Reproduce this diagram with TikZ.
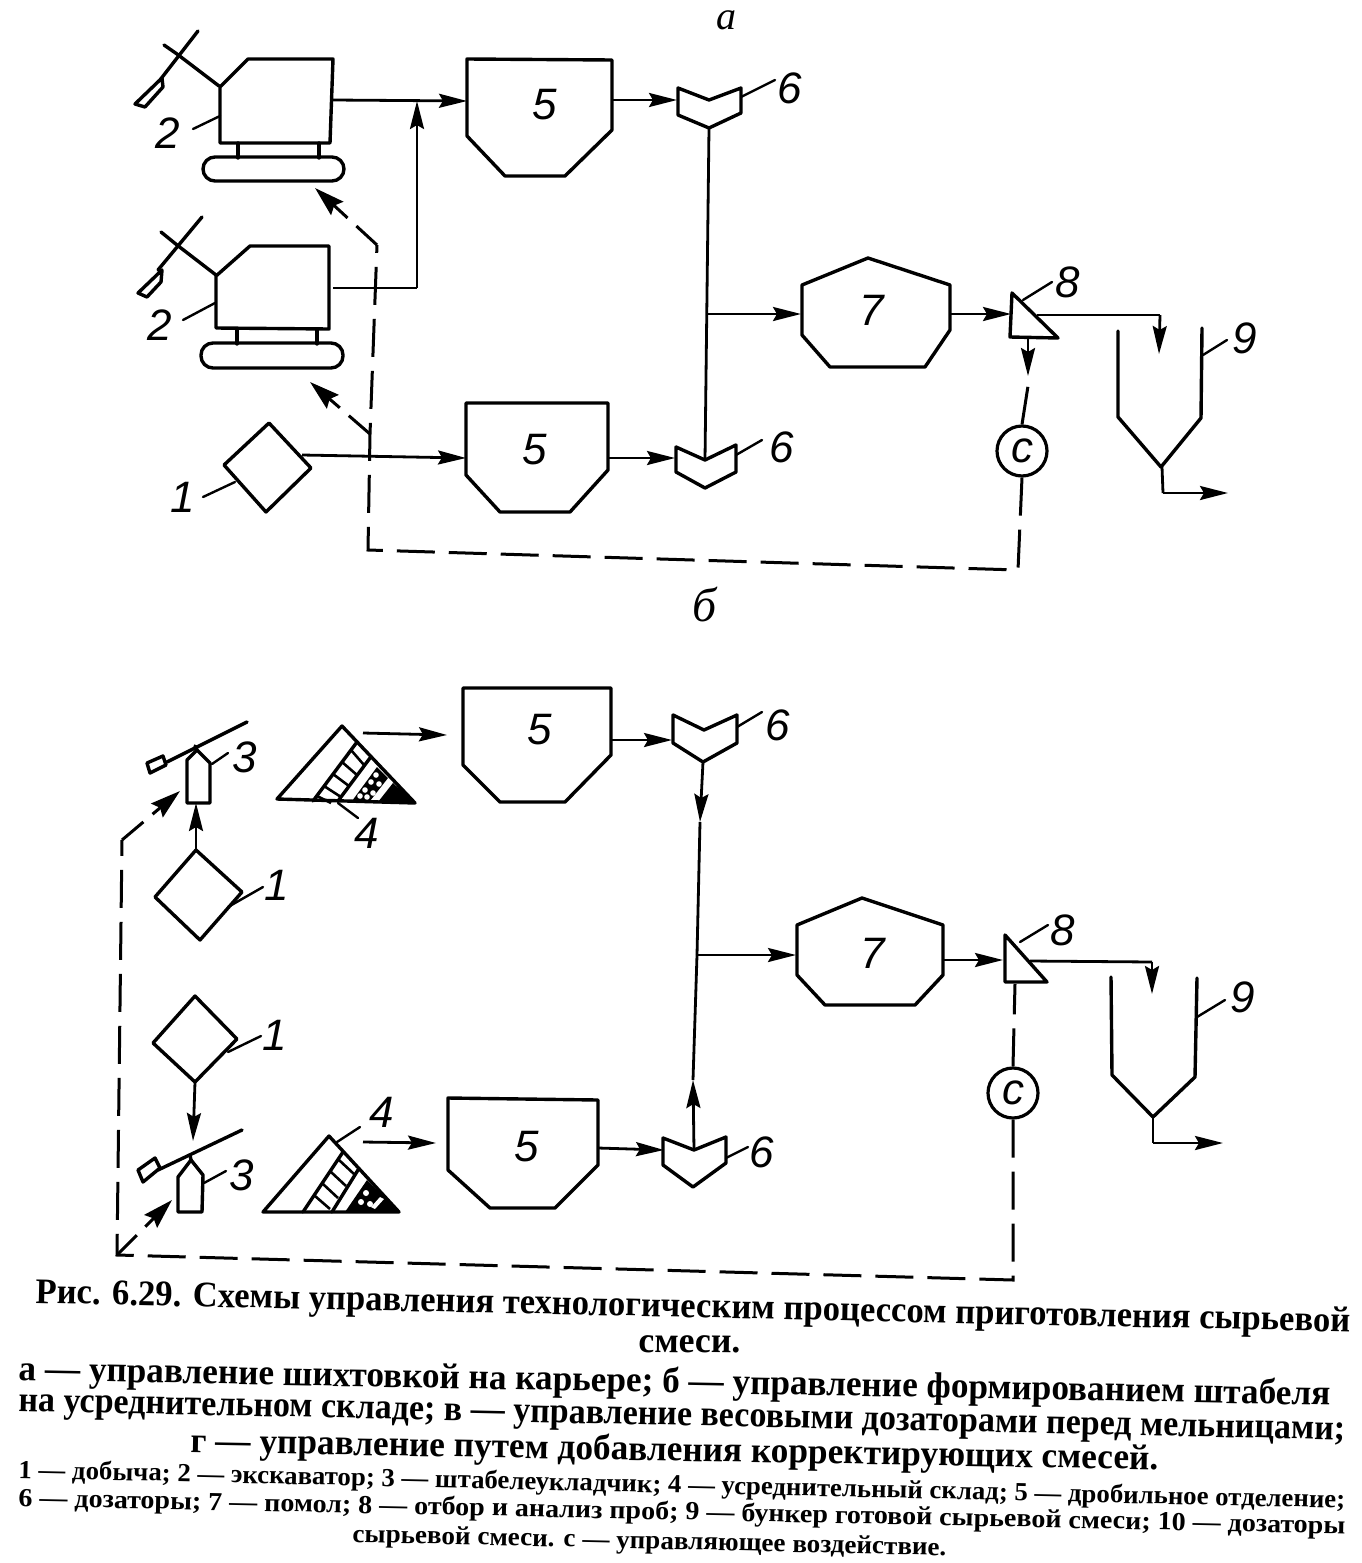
\documentclass[tikz,border=0pt]{standalone}
\usepackage{fontspec}
\usepackage{graphicx}
\setmainfont{Liberation Serif}
\newfontfamily\handf{Liberation Sans}
\usetikzlibrary{arrows.meta}
\newlength\pxu \setlength\pxu{0.5pt}
\tikzset{
 sh/.style={line width=1.7pt,line join=round,line cap=round},
 thin line/.style={line width=1.2pt,line cap=round},
 conn/.style={line width=1.4pt,-{Stealth[length=14pt,width=7pt,inset=2pt]}},
 pipe/.style={line width=1.4pt,line join=round},
 ctrl/.style={line width=1.5pt,dash pattern=on 19pt off 7pt},
 ctrlarrow/.style={line width=1.5pt,dash pattern=on 14pt off 6pt,-{Stealth[length=15pt,width=9pt,inset=2pt]}},
 hand/.style={font=\handf\itshape\fontsize{22}{22}\selectfont,inner sep=0pt},
 letter/.style={font=\rmfamily\itshape\fontsize{24}{24}\selectfont,inner sep=0pt},
 lettersmall/.style={font=\rmfamily\itshape\fontsize{20}{20}\selectfont,inner sep=0pt,anchor=base},
 capA/.style={font=\rmfamily\bfseries\fontsize{18}{18}\selectfont,inner sep=0pt,anchor=base west},
 capB/.style={font=\rmfamily\bfseries\fontsize{13}{13}\selectfont,inner sep=0pt,anchor=base west},
 ring/.style={circle,draw,line width=1.6pt,minimum size=25pt,inner sep=0pt,font=\handf\itshape\fontsize{22}{22}\selectfont},
}
\newcommand{\capl}[7]{\node[#1,rotate=#4] (#7) at (#2,#3) {\resizebox{#5\pxu}{\height}{#6}};}
\begin{document}
\begin{tikzpicture}[x=0.5pt,y=-0.5pt]
\useasboundingbox (0,0) rectangle (1361,1563);
% ---------- coordinates of connector ends (upper scheme)
\coordinate (e1out) at (333,100);
\coordinate (h1in) at (467,101);
\coordinate (j1) at (417,101);
\coordinate (e2out) at (333,288);
\coordinate (c2) at (417,288);
\coordinate (h1out) at (612,100);
\coordinate (d1in) at (677,100);
\coordinate (d1bot) at (709,128);
\coordinate (d2top) at (705,460);
\coordinate (j2) at (708,314);
\coordinate (m1in) at (801,314);
\coordinate (dm1out) at (302,455);
\coordinate (h2in) at (466,458);
\coordinate (h2out) at (608,458);
\coordinate (d2in) at (675,458);
\coordinate (m1out) at (950,314);
\coordinate (t1in) at (1011,314);
\coordinate (t1out) at (1037,315);
\coordinate (b1a) at (1160,315);
\coordinate (b1b) at (1159,354);
\coordinate (b1c) at (1162,467);
\coordinate (b1d) at (1163,493);
\coordinate (b1e) at (1228,493);
\coordinate (t1b) at (1028,337);
\coordinate (t1c) at (1028,376);
\coordinate (ct1) at (377,245);
\coordinate (ct2) at (370,434);
\coordinate (ct3) at (368,550);
\coordinate (ct4) at (1018,570);
\coordinate (ta1) at (315,188);
\coordinate (ta2) at (310,382);
% ---------- excavators
\draw[sh] (220,87)--(248,59)--(333,59)--(330,143)--(220,143)--cycle;
\draw[sh] (219,86)--(177,54)--(164,45);
\draw[sh] (198,31)--(160,80);
\draw[sh] (162,78)--(163,87)--(145,107)--(135,104)--cycle;
\draw[sh] (238,143)--(238,158) (319,143)--(319,158);
\draw[sh,rounded corners=6pt] (203,157) rectangle (344,181);
\draw[thin line] (193,129)--(220,116);
\node[hand] (n2a) at (168,133) {2};
\draw[sh] (216,276)--(250,246)--(329,246)--(329,329)--(216,328)--cycle;
\draw[sh] (216,275)--(177,245)--(161,232);
\draw[sh] (202,217)--(158,270);
\draw[sh] (162,270)--(161,282)--(147,297)--(138,293)--cycle;
\draw[sh] (237,329)--(237,344) (317,329)--(317,344);
\draw[sh,rounded corners=6pt] (201,343) rectangle (343,368);
\draw[thin line] (183,320)--(215,303);
\node[hand] (n2b) at (160,325) {2};
% diamond 1
\draw[sh] (269,423)--(311,468)--(266,512)--(224,465)--cycle;
\draw[thin line] (203,497)--(235,482);
\node[hand] (n1a) at (183,497) {1};
% hoppers 5
\draw[sh] (467,59)--(612,60)--(612,130)--(565,176)--(505,176)--(467,136)--cycle;
\node[hand] (n5a) at (545,105) {5};
\draw[sh] (466,403)--(608,403)--(608,470)--(570,512)--(500,512)--(466,475)--cycle;
\node[hand] (n5b) at (535,450) {5};
% dosers 6
\draw[sh] (678,88)--(709,100)--(741,88)--(741,113)--(709,128)--(678,115)--cycle;
\draw[thin line] (741,97)--(775,80);
\node[hand] (n6a) at (790,88) {6};
\draw[sh] (676,447)--(705,460)--(736,445)--(736,472)--(705,488)--(676,472)--cycle;
\draw[thin line] (736,455)--(762,440);
\node[hand] (n6b) at (782,447) {6};
% mill 7
\draw[sh] (802,285)--(868,258)--(950,285)--(950,330)--(925,367)--(830,367)--(802,335)--cycle;
\node[hand] (n7a) at (872,310) {7};
% sampler 8
\draw[sh] (1012,293)--(1058,338)--(1010,337)--cycle;
\draw[thin line] (1023,300)--(1052,282);
\node[hand] (n8a) at (1068,282) {8};
\node[ring] (c1) at (1022,451) {c};
% bunker 9
\draw[sh] (1118,331)--(1118,417)--(1161,467)--(1201,418)--(1202,328);
\draw[thin line] (1203,355)--(1227,340);
\node[hand] (n9a) at (1245,338) {9};
% connectors
\draw[conn] (e1out)--(h1in);
\draw[pipe] (e2out)--(c2);
\draw[conn] (c2)--(j1);
\draw[conn] (h1out)--(d1in);
\draw[pipe] (d1bot)--(d2top);
\draw[conn] (j2)--(m1in);
\draw[conn] (dm1out)--(h2in);
\draw[conn] (h2out)--(d2in);
\draw[conn] (m1out)--(t1in);
\draw[pipe] (t1out)--(b1a);
\draw[conn] (b1a)--(b1b);
\draw[pipe] (b1c)--(b1d);
\draw[conn] (b1d)--(b1e);
\draw[conn] (t1b)--(t1c);
\draw[ctrl] (c1.north)--(1028,386);
\draw[ctrl] (c1.south)--(ct4)--(ct3)--(ct2)--(ct1);
\draw[ctrlarrow] (ct1)--(ta1);
\draw[ctrlarrow] (ct2)--(ta2);
\node[lettersmall] (la) at (726,29) {а};
\node[letter] (lb) at (705,605) {б};
% ---------- lower scheme
\coordinate (h3out) at (611,740);
\coordinate (d3in) at (672,740);
\coordinate (d3bot) at (703,762);
\coordinate (d3ar) at (700,822);
\coordinate (j3) at (697,955);
\coordinate (d4top) at (694,1150);
\coordinate (d4ar) at (693,1080);
\coordinate (m2in) at (796,955);
\coordinate (m2out) at (943,960);
\coordinate (t2in) at (1003,960);
\coordinate (t2out) at (1030,961);
\coordinate (b2a) at (1152,962);
\coordinate (b2b) at (1152,994);
\coordinate (b2c) at (1153,1117);
\coordinate (b2d) at (1153,1143);
\coordinate (b2e) at (1223,1143);
\coordinate (s1a) at (363,733);
\coordinate (s1b) at (447,735);
\coordinate (s2a) at (363,1142);
\coordinate (s2b) at (436,1143);
\coordinate (h4out) at (598,1148);
\coordinate (d4in) at (664,1150);
\coordinate (dm2top) at (196,850);
\coordinate (p1bot) at (196,803);
\coordinate (dm3bot) at (195,1082);
\coordinate (p2top) at (193,1141);
\coordinate (t2b) at (1015,984);
\coordinate (cr1) at (1013,1280);
\coordinate (cr2) at (117,1255);
\coordinate (cr3) at (122,840);
\coordinate (cr4) at (180,791);
\coordinate (cr5) at (172,1200);
% hoppers
\draw[sh] (463,688)--(611,688)--(611,755)--(565,802)--(500,802)--(463,765)--cycle;
\node[hand] (n5c) at (540,730) {5};
\draw[sh] (448,1098)--(598,1100)--(598,1165)--(555,1208)--(490,1208)--(448,1170)--cycle;
\node[hand] (n5d) at (527,1147) {5};
% dosers
\draw[sh] (673,715)--(704,730)--(737,715)--(737,743)--(703,762)--(673,743)--cycle;
\draw[thin line] (737,727)--(762,712);
\node[hand] (n6c) at (778,725) {6};
\draw[sh] (663,1138)--(694,1150)--(726,1137)--(726,1163)--(693,1187)--(663,1165)--cycle;
\draw[thin line] (726,1158)--(748,1147);
\node[hand] (n6d) at (762,1152) {6};
% mill
\draw[sh] (797,925)--(862,898)--(943,925)--(943,975)--(915,1005)--(825,1005)--(797,975)--cycle;
\node[hand] (n7b) at (873,953) {7};
% sampler
\draw[sh] (1005,935)--(1047,982)--(1005,982)--cycle;
\draw[thin line] (1020,942)--(1048,925);
\node[hand] (n8b) at (1063,930) {8};
\node[ring] (c2n) at (1013,1093) {c};
% bunker
\draw[sh] (1111,977)--(1112,1075)--(1153,1117)--(1195,1077)--(1197,978);
\draw[thin line] (1197,1017)--(1225,1000);
\node[hand] (n9b) at (1243,997) {9};
% diamonds
\draw[sh] (196,850)--(242,892)--(200,940)--(155,897)--cycle;
\draw[thin line] (228,907)--(263,887);
\node[hand] (n1b) at (277,885) {1};
\draw[sh] (195,996)--(237,1039)--(195,1082)--(153,1043)--cycle;
\draw[thin line] (228,1052)--(261,1036);
\node[hand] (n1c) at (275,1035) {1};
% spreader 3 upper
\draw[sh] (247,722)--(167,762);
\draw[sh] (163,756)--(166,765)--(150,773)--(147,763)--cycle;
\draw[sh] (187,760)--(197,750)--(210,763)--(210,803)--(187,803)--cycle;
\draw[sh] (197,750)--(195,746);
\draw[thin line] (212,764)--(228,753);
\node[hand] (n3a) at (245,757) {3};
% spreader 3 lower
\draw[sh] (242,1130)--(158,1170);
\draw[sh] (155,1158)--(160,1168)--(143,1182)--(138,1170)--cycle;
\draw[sh] (178,1177)--(191,1160)--(203,1175)--(202,1212)--(178,1212)--cycle;
\draw[sh] (191,1160)--(190,1155);
\draw[thin line] (204,1183)--(226,1171);
\node[hand] (n3b) at (242,1175) {3};
% stacks 4 upper
\fill (393,783)--(415,803)--(378,802)--cycle;
\fill (377,767)--(388,778)--(370,801)--(352,801)--cycle;
\foreach \p in {(376,775),(371,782),(379,784),(365,790),(373,793),(360,796),(367,797)} \fill[white] \p circle (1.4pt);
\draw[sh] (357,742)--(313,801) (370,758)--(338,801);
\draw[line width=1.3pt] (351,750)--(364,765) (342,762)--(357,775) (333,774)--(349,786) (324,786)--(341,797) (317,796)--(331,803);
\draw[sh] (342,726)--(415,803)--(277,799)--cycle;
\draw[thin line] (338,803)--(358,818);
\node[hand] (n4a) at (367,833) {4};
% stacks 4 lower
\fill (367,1180)--(399,1212)--(345,1212)--cycle;
\fill[white] (380,1197)--(384,1199)--(375,1209)--(371,1207)--cycle;
\foreach \p in {(366,1193),(361,1202),(370,1204)} \fill[white] \p circle (1.5pt);
\draw[sh] (343,1152)--(303,1212) (358,1170)--(332,1212);
\draw[line width=1.3pt] (339,1160)--(354,1174) (331,1172)--(346,1186) (323,1184)--(338,1198) (315,1196)--(330,1209);
\draw[sh] (329,1136)--(399,1212)--(263,1212)--cycle;
\draw[thin line] (337,1142)--(360,1127);
\node[hand] (n4b) at (382,1112) {4};
% connectors lower
\draw[conn] (h3out)--(d3in);
\draw[conn] (d3bot)--(d3ar);
\draw[pipe] (d3ar)--(j3);
\draw[conn] (d4top)--(d4ar);
\draw[pipe] (d4ar)--(j3);
\draw[conn] (j3)--(m2in);
\draw[conn] (m2out)--(t2in);
\draw[pipe] (t2out)--(b2a);
\draw[conn] (b2a)--(b2b);
\draw[pipe] (b2c)--(b2d);
\draw[conn] (b2d)--(b2e);
\draw[conn] (s1a)--(s1b);
\draw[conn] (s2a)--(s2b);
\draw[conn] (h4out)--(d4in);
\draw[conn] (dm2top)--(p1bot);
\draw[conn] (dm3bot)--(p2top);
\draw[ctrl] (c2n.north)--(t2b);
\draw[ctrl] (c2n.south)--(cr1)--(cr2)--(cr3);
\draw[ctrlarrow] (cr3)--(cr4);
\draw[ctrlarrow] (cr2)--(cr5);
% ---------- caption
\capl{capA}{35}{1303}{-1.26}{1315}{Рис. 6.29. Схемы управления технологическим процессом приготовления сырьевой}{t1}
\capl{capA}{638}{1352}{-0.6}{102}{смеси.}{t2}
\capl{capA}{18}{1380}{-1.1}{1312}{а — управление шихтовкой на карьере; б — управление формированием штабеля}{t3}
\capl{capA}{18}{1411}{-1.25}{1327}{на усреднительном складе; в — управление весовыми дозаторами перед мельницами;}{t4}
\capl{capA}{190}{1452}{-1.05}{968}{г — управление путем добавления корректирующих смесей.}{t5}
\capl{capB}{18}{1478}{-1.3}{1327}{1 — добыча; 2 — экскаватор; 3 — штабелеукладчик; 4 — усреднительный склад; 5 — дробильное отделение;}{t6}
\capl{capB}{18}{1506}{-1.2}{1327}{6 — дозаторы; 7 — помол; 8 — отбор и анализ проб; 9 — бункер готовой сырьевой смеси; 10 — дозаторы}{t7}
\capl{capB}{352}{1542}{-1.3}{594}{сырьевой смеси. с — управляющее воздействие.}{t8}
\end{tikzpicture}
\end{document}
